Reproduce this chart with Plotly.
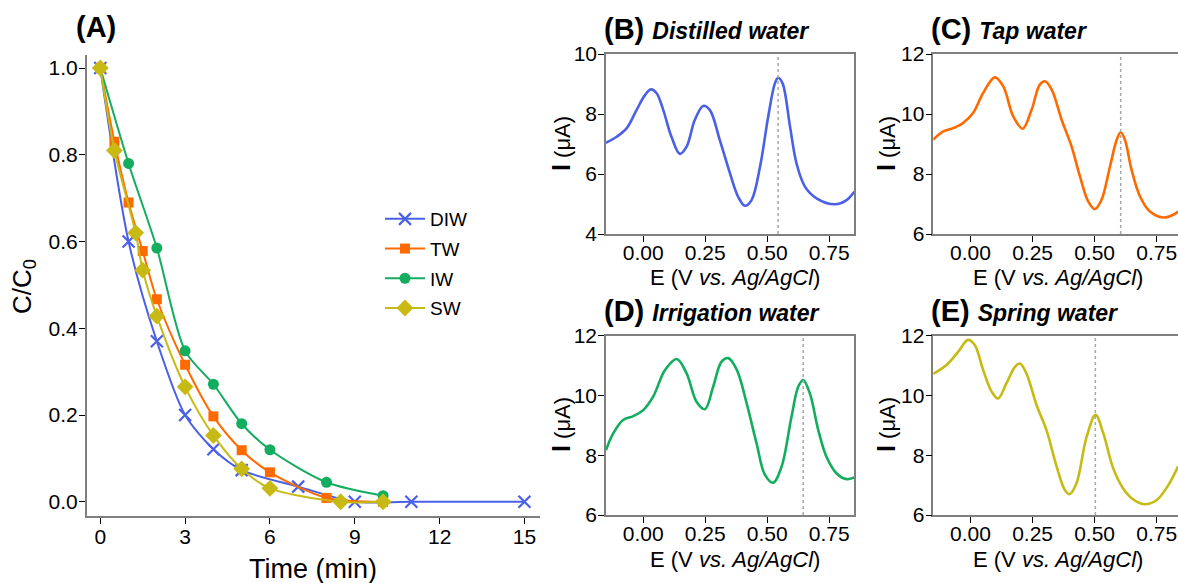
import plotly.graph_objects as go

# ---------------- Panel A data ----------------
series_names = ["DIW", "TW", "IW", "SW"]
t_diw = [0, 1, 2, 3, 4, 5, 7, 9, 11, 15]
c_diw = [1.0, 0.60, 0.37, 0.20, 0.121, 0.073, 0.035, 0.0, 0.0, 0.0]
t_tw = [0, 0.5, 1, 1.5, 2, 3, 4, 5, 6, 8, 10]
c_tw = [1.0, 0.83, 0.69, 0.578, 0.467, 0.316, 0.197, 0.119, 0.068, 0.009, 0.0]
t_iw = [0, 1, 2, 3, 4, 5, 6, 8, 10]
c_iw = [1.0, 0.78, 0.585, 0.348, 0.271, 0.18, 0.12, 0.045, 0.014]
t_sw = [0, 0.5, 1.25, 1.5, 2, 3, 4, 5, 6, 8.5, 10]
c_sw = [1.0, 0.81, 0.62, 0.534, 0.428, 0.265, 0.153, 0.076, 0.031, 0.0, 0.0]

# ---------------- Panels B-E data ----------------
E_b = [-0.150, -0.107, -0.067, -0.027, 0.007, 0.031, 0.054, 0.081, 0.114, 0.148, 0.175,
       0.208, 0.242, 0.269, 0.309, 0.350, 0.383, 0.410, 0.437, 0.471, 0.504, 0.531,
       0.544, 0.562, 0.592, 0.618, 0.652, 0.699, 0.773, 0.820, 0.851]
I_b = [7.04, 7.24, 7.52, 8.13, 8.63, 8.82, 8.69, 8.13, 7.24, 6.67, 6.91,
       7.80, 8.27, 8.13, 7.13, 6.02, 5.24, 4.94, 5.13, 6.24, 7.91, 9.02,
       9.21, 9.02, 7.58, 6.36, 5.58, 5.19, 4.99, 5.13, 5.41]

E_c = [-0.151, -0.110, -0.070, -0.030, 0.010, 0.051, 0.098, 0.132, 0.172, 0.210, 0.246,
       0.279, 0.300, 0.327, 0.367, 0.407, 0.441, 0.474, 0.501, 0.528, 0.562, 0.589,
       0.605, 0.622, 0.649, 0.683, 0.723, 0.777, 0.817, 0.836]
I_c = [9.14, 9.42, 9.53, 9.70, 10.03, 10.70, 11.22, 10.92, 9.92, 9.51, 10.14,
       10.98, 11.09, 10.81, 9.81, 8.92, 7.92, 7.09, 6.83, 7.14, 8.25, 9.14,
       9.39, 9.14, 8.14, 7.25, 6.75, 6.55, 6.64, 6.75]

E_d = [-0.150, -0.121, -0.081, -0.040, 0.0, 0.040, 0.088, 0.135, 0.175, 0.215, 0.249,
       0.282, 0.316, 0.343, 0.378, 0.417, 0.457, 0.491, 0.524, 0.558, 0.598, 0.625,
       0.645, 0.672, 0.706, 0.739, 0.780, 0.820, 0.851]
I_d = [8.17, 8.73, 9.18, 9.31, 9.51, 9.96, 10.85, 11.22, 10.74, 9.79, 9.54,
       10.29, 11.13, 11.25, 10.85, 9.74, 8.40, 7.34, 7.08, 7.62, 9.29, 10.29,
       10.52, 10.07, 8.84, 7.95, 7.39, 7.20, 7.26]

E_e = [-0.151, -0.097, -0.050, -0.010, 0.017, 0.051, 0.085, 0.111, 0.145, 0.179, 0.199,
       0.225, 0.266, 0.306, 0.347, 0.380, 0.400, 0.427, 0.468, 0.504, 0.535, 0.575,
       0.615, 0.656, 0.703, 0.750, 0.797, 0.836]
I_e = [10.72, 11.02, 11.46, 11.86, 11.69, 10.85, 10.13, 9.90, 10.41, 10.96, 11.07,
       10.74, 9.68, 8.84, 7.62, 6.84, 6.70, 7.06, 8.62, 9.35, 8.73, 7.56,
       6.89, 6.52, 6.36, 6.50, 7.00, 7.62]

peak_E = [0.544, 0.605, 0.645, 0.503]
panel_titles = ["Distilled water", "Tap water", "Irrigation water", "Spring water"]
panel_letters = ["(B)", "(C)", "(D)", "(E)"]

colors = {"DIW": "#4A60E6", "TW": "#FF6A00", "IW": "#12AD5E", "SW": "#C8BA14"}
FONT = "Liberation Sans, Arial, sans-serif"
W, H = 1178, 583

def px(x):
    return x / W

def py(y):
    return 1 - y / H

fig = go.Figure()

# Panel A traces
markers = {
    "DIW": dict(symbol="x-thin-open", size=12, line=dict(width=2.2, color=colors["DIW"])),
    "TW": dict(symbol="square", size=10),
    "IW": dict(symbol="circle", size=11),
    "SW": dict(symbol="diamond", size=13),
}
data_a = {"DIW": (t_diw, c_diw), "TW": (t_tw, c_tw), "IW": (t_iw, c_iw), "SW": (t_sw, c_sw)}
for name in series_names:
    t, c = data_a[name]
    fig.add_trace(go.Scatter(
        x=t, y=c, name=name, mode="lines+markers",
        line=dict(color=colors[name], width=2, shape="spline", smoothing=0.8),
        marker=dict(color=colors[name], **markers[name]),
        xaxis="x", yaxis="y", legendgroup=name,
    ))

# Panels B-E traces
curves = [(E_b, I_b, "DIW"), (E_c, I_c, "TW"), (E_d, I_d, "IW"), (E_e, I_e, "SW")]
for i, (E, I, key) in enumerate(curves):
    n = i + 2
    fig.add_trace(go.Scatter(
        x=E, y=I, mode="lines", showlegend=False,
        line=dict(color=colors[key], width=2.6, shape="spline", smoothing=1.0),
        xaxis=f"x{n}", yaxis=f"y{n}",
    ))

tickfont = dict(family=FONT, size=21, color="black")
axis_common = dict(showgrid=False, zeroline=False, ticks="outside", ticklen=6, tickwidth=1.3,
                   tickcolor="black", showline=True, linecolor="#7f7f7f", tickfont=tickfont,
                   automargin=False)

# domains
dom_A_x = [px(87), px(540)]
dom_A_y = [py(515.7), py(55)]
dom_L_x = [px(606), px(854)]
dom_R_x = [px(933.3), 1.0]
dom_T_y = [py(234), py(54)]
dom_B_y = [py(515), py(335.7)]

layout = dict(
    template="none",
    width=W, height=H,
    margin=dict(l=0, r=0, t=0, b=0, autoexpand=False),
    paper_bgcolor="white", plot_bgcolor="white",
    font=dict(family=FONT, color="black"),
    showlegend=True,
    legend=dict(x=px(380), y=py(200), xanchor="left", yanchor="top",
                font=dict(family=FONT, size=19, color="black"),
                bgcolor="rgba(0,0,0,0)", tracegroupgap=2, itemwidth=40),
    xaxis=dict(domain=dom_A_x, anchor="y", range=[-0.47, 15.55], tickmode="array",
               tickvals=[0, 3, 6, 9, 12, 15], linewidth=2, ticklabelstandoff=-5,
               **axis_common),
    yaxis=dict(domain=dom_A_y, anchor="x", range=[-0.032, 1.03], tickmode="array",
               tickvals=[0, 0.2, 0.4, 0.6, 0.8, 1.0], tickformat=".1f", linewidth=2,
               ticklabelstandoff=-3, **axis_common),
)

panel_specs = [
    (2, dom_L_x, dom_T_y, [4, 10], [4, 6, 8, 10], [-0.15, 0.85], True),
    (3, dom_R_x, dom_T_y, [6, 12], [6, 8, 10, 12], [-0.15, 0.836], False),
    (4, dom_L_x, dom_B_y, [6, 12], [6, 8, 10, 12], [-0.15, 0.85], True),
    (5, dom_R_x, dom_B_y, [6, 12], [6, 8, 10, 12], [-0.15, 0.836], False),
]
for n, dx, dy, yr, yt, xr, full_box in panel_specs:
    layout[f"xaxis{n}"] = dict(domain=dx, anchor=f"y{n}", range=xr, tickmode="array",
                               tickvals=[0, 0.25, 0.5, 0.75], tickformat=".2f",
                               mirror=True, linewidth=1.5, ticklabelstandoff=-7,
                               **axis_common)
    layout[f"yaxis{n}"] = dict(domain=dy, anchor=f"x{n}", range=yr, tickmode="array",
                               tickvals=yt, mirror=full_box, linewidth=1.5,
                               ticklabelstandoff=-3, **axis_common)

fig.update_layout(**layout)

# dotted peak lines
for i, e in enumerate(peak_E):
    n = i + 2
    fig.add_shape(type="line", xref=f"x{n}", yref=f"y{n} domain", x0=e, x1=e, y0=0, y1=1,
                  line=dict(color="#A8A8A8", width=1.5, dash="dot"))

# axis titles
def label(x, y, text, size, angle=0):
    fig.add_annotation(x=px(x), y=py(y), xref="paper", yref="paper", xanchor="center",
                       yanchor="middle", showarrow=False, text=text, textangle=angle,
                       font=dict(family=FONT, size=size, color="black"))

label(313, 569, "Time (min)", 27)
label(23, 287, "C/C<sub>0</sub>", 26, -90)

ytitle = '<b><span style="font-size:25px">I</span></b> (μA)'
xtitle = "E (V <i>vs. Ag/AgCl</i>)"
xt_pos = [(735, 277), (1058, 277), (735, 559), (1058, 559)]
yt_pos = [(561, 144), (886, 144), (561, 425), (886, 425)]
for (xx, yy) in xt_pos:
    label(xx, yy, xtitle, 22)
for (xx, yy) in yt_pos:
    label(xx, yy, ytitle, 22, -90)

# panel titles
fig.add_annotation(x=px(74), y=py(27), xref="paper", yref="paper", xanchor="left", yanchor="middle",
                   text="<b>(A)</b>", showarrow=False, font=dict(family=FONT, size=29, color="black"))
title_pos = [(602, 29), (929, 29), (602, 311), (929, 311)]
for (x0, y0), letter, name in zip(title_pos, panel_letters, panel_titles):
    fig.add_annotation(x=px(x0), y=py(y0), xref="paper", yref="paper", xanchor="left",
                       yanchor="middle", showarrow=False,
                       text=f'<b>{letter}</b> <b><i><span style="font-size:23px">{name}</span></i></b>',
                       font=dict(family=FONT, size=29, color="black"))

fig.write_html("out.html", config={"displayModeBar": False},
               post_script="document.body.style.margin='0';")
